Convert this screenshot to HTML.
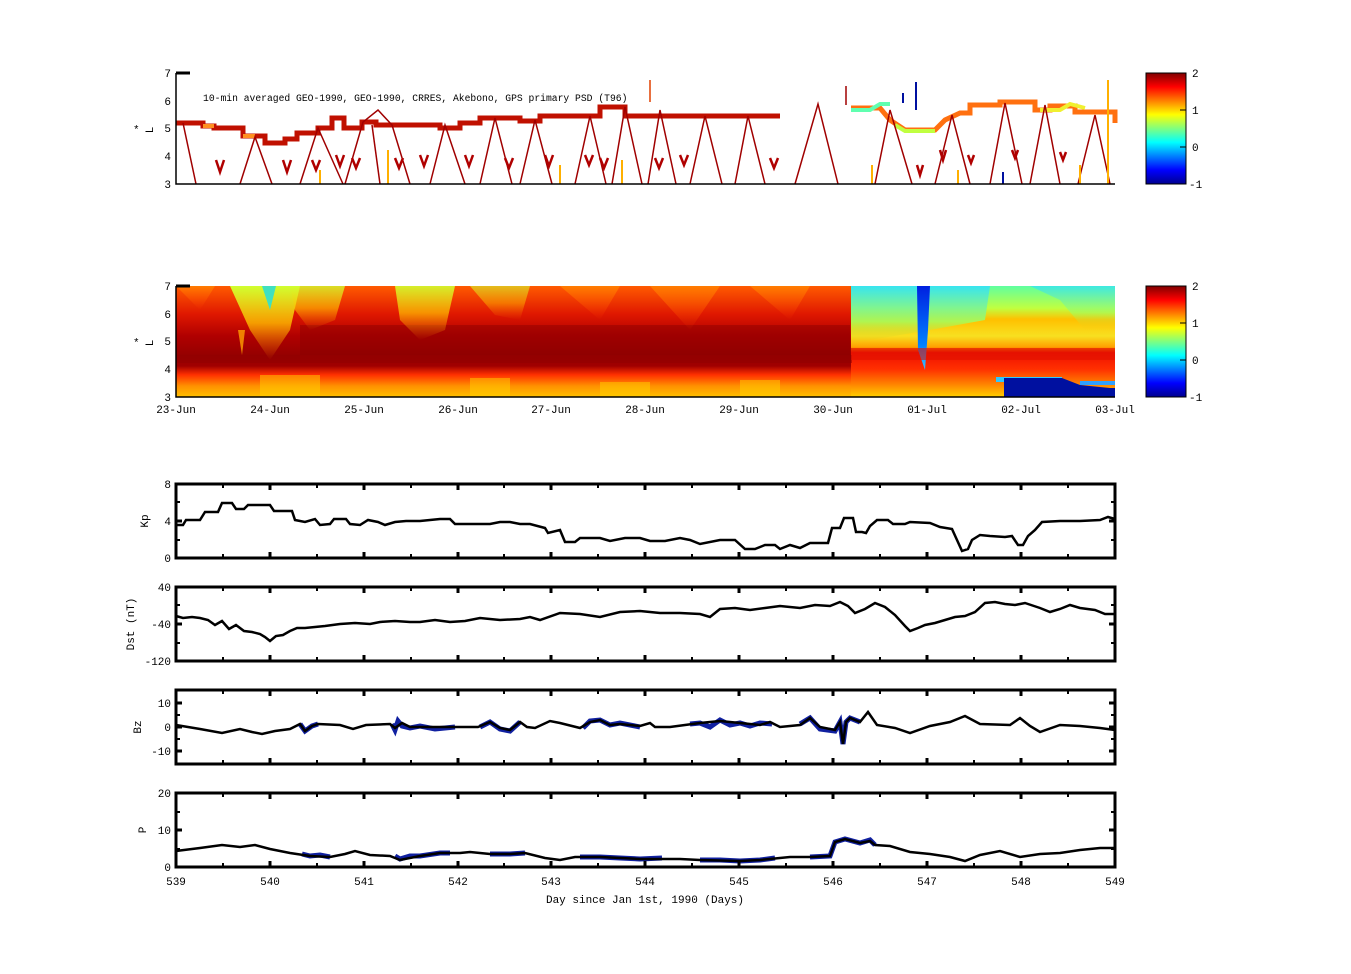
<!DOCTYPE html>
<html><head><meta charset="utf-8"><style>
html,body{margin:0;padding:0;background:#fff;}
svg{display:block;font-family:"Liberation Mono",monospace;}
</style></head><body>
<svg width="1351" height="974" viewBox="0 0 1351 974" xmlns="http://www.w3.org/2000/svg">
<defs>
<linearGradient id="jet" x1="0" y1="0" x2="0" y2="1">
<stop offset="0" stop-color="#800000"/><stop offset="0.125" stop-color="#ff0000"/><stop offset="0.375" stop-color="#ffff00"/><stop offset="0.625" stop-color="#00ffff"/><stop offset="0.875" stop-color="#0000ff"/><stop offset="1" stop-color="#00008f"/>
</linearGradient>
<linearGradient id="hmL" x1="0" y1="0" x2="0" y2="1">
<stop offset="0" stop-color="#ff5a00"/><stop offset="0.25" stop-color="#e01800"/><stop offset="0.45" stop-color="#b00000"/><stop offset="0.62" stop-color="#960000"/><stop offset="0.72" stop-color="#a00000"/><stop offset="0.8" stop-color="#ff3000"/><stop offset="0.9" stop-color="#ff9000"/><stop offset="1" stop-color="#ffc000"/>
</linearGradient>
<linearGradient id="hmR" x1="0" y1="0" x2="0" y2="1">
<stop offset="0" stop-color="#60ffa0"/><stop offset="0.2" stop-color="#c0ff40"/><stop offset="0.3" stop-color="#ffc000"/><stop offset="0.45" stop-color="#f8e020"/><stop offset="0.55" stop-color="#ffa000"/><stop offset="0.6" stop-color="#f01000"/><stop offset="0.75" stop-color="#ff3000"/><stop offset="0.88" stop-color="#ff8000"/><stop offset="1" stop-color="#ffd000"/>
</linearGradient>
<linearGradient id="ylw" x1="0" y1="0" x2="0" y2="1">
<stop offset="0" stop-color="#d0ff30" stop-opacity="1"/><stop offset="0.5" stop-color="#ffc000" stop-opacity="0.8"/><stop offset="1" stop-color="#ff8000" stop-opacity="0"/>
</linearGradient>
<linearGradient id="org" x1="0" y1="0" x2="0" y2="1">
<stop offset="0" stop-color="#ff8000" stop-opacity="0.9"/><stop offset="1" stop-color="#ff4000" stop-opacity="0"/>
</linearGradient>
<linearGradient id="cyn" x1="0" y1="0" x2="0" y2="1">
<stop offset="0" stop-color="#30e0ff"/><stop offset="0.6" stop-color="#a0ff60"/><stop offset="1" stop-color="#ffc000" stop-opacity="0"/>
</linearGradient>
<linearGradient id="bspike" x1="0" y1="0" x2="0" y2="1">
<stop offset="0" stop-color="#0020e0"/><stop offset="0.7" stop-color="#0080ff"/><stop offset="1" stop-color="#40c0ff"/>
</linearGradient>
</defs>

<!-- Panel 1 -->
<g>
<path d="M176 123 H203 V126 H214 V128 H243 V136 H265 V143 H285 V139 H297 V133 H318 V128 H332 V118 H344 V128 H362 V122 H376 V125 H440 V128 H460 V123 H480 V118 H520 V121 H540 V116 H600 V107 H625 V116 H780" fill="none" stroke="#c01000" stroke-width="5"/>
<path d="M203 126 H214 M243 136 H255" stroke="#ff9020" stroke-width="4"/>
<path d="M851 108 H880 L890 120 L905 130 H935 L945 120 L960 113 H970 V105 H1000 V102 H1035 V110 H1050 V106 H1075 V112 H1115 V123" fill="none" stroke="#ff7010" stroke-width="5"/>
<path d="M851 110 H870 L880 104 H890" fill="none" stroke="#60ffb0" stroke-width="4"/>
<path d="M895 125 L905 131 H935" fill="none" stroke="#c0ff40" stroke-width="4"/>
<path d="M1040 110 H1060 L1070 104 L1085 108" fill="none" stroke="#f0f030" stroke-width="4"/>
<g fill="none" stroke="#a00000" stroke-width="1.5">
<path d="M183 123 L196 184"/><path d="M240 184 L255 137 L272 184"/><path d="M300 184 L318 128 L343 184"/>
<path d="M345 184 L363 122 L378 110 L392 125 L410 184"/><path d="M430 184 L445 125 L465 184"/>
<path d="M480 184 L495 118 L512 184"/><path d="M520 184 L535 120 L552 184"/><path d="M575 184 L590 116 L606 184"/>
<path d="M612 184 L625 107 L642 184"/><path d="M648 184 L660 110 L676 184"/><path d="M690 184 L705 116 L722 184"/>
<path d="M735 184 L748 116 L765 184"/><path d="M795 184 L818 104 L838 184"/><path d="M875 184 L890 110 L912 184"/>
<path d="M935 184 L952 115 L970 184"/><path d="M990 184 L1005 103 L1022 184"/><path d="M1030 184 L1045 105 L1060 184"/>
<path d="M1078 184 L1095 115 L1110 184"/><path d="M380 184 L372 125"/><path d="M846 86 L846 105"/>
</g>
<g fill="none" stroke="#b00000" stroke-width="2.5">
<path d="M216 160 L220 172 L224 160"/><path d="M283 160 L287 172 L291 160"/><path d="M312 160 L316 170 L320 160"/><path d="M336 155 L340 166 L344 155"/>
<path d="M352 158 L356 168 L360 158"/><path d="M395 158 L399 168 L403 158"/><path d="M420 155 L424 166 L428 155"/><path d="M465 155 L469 166 L473 155"/>
<path d="M505 158 L509 168 L513 158"/><path d="M545 155 L549 166 L553 155"/><path d="M585 155 L589 165 L593 155"/><path d="M600 158 L604 168 L608 158"/>
<path d="M655 158 L659 168 L663 158"/><path d="M680 155 L684 165 L688 155"/><path d="M770 158 L774 168 L778 158"/><path d="M917 165 L920 175 L923 165"/>
<path d="M940 150 L943 160 L946 150"/><path d="M968 155 L971 163 L974 155"/><path d="M1012 150 L1015 158 L1018 150"/><path d="M1060 152 L1063 160 L1066 152"/>
</g>
<g stroke="#ffb000" stroke-width="2"><path d="M320 184 V170 M388 184 V150 M560 184 V165 M622 184 V160 M872 184 V165 M958 184 V170 M1080 184 V165 M1108 184 V80"/></g>
<g stroke="#0010a0" stroke-width="2"><path d="M903 93 V103 M916 82 V110 M1003 172 V184"/></g>
<path d="M650 80 V102" stroke="#e04000" stroke-width="1.5"/>
<path d="M176 73 V184 H1115" fill="none" stroke="#000" stroke-width="1.5"/>
<path d="M176 73 H190" stroke="#000" stroke-width="3"/>
<text x="203" y="101" font-size="9.7">10-min averaged GEO-1990, GEO-1990, CRRES, Akebono, GPS  primary PSD (T96)</text>
<g font-size="11" text-anchor="end"><text x="171" y="77">7</text><text x="171" y="105">6</text><text x="171" y="132">5</text><text x="171" y="160">4</text><text x="171" y="188">3</text></g>
<text transform="translate(153,130) rotate(-90)" font-size="11" text-anchor="middle">L</text>
<text x="133" y="133" font-size="11">*</text>
<rect x="1146" y="73" width="40" height="111" fill="url(#jet)" stroke="#000"/>
<g font-size="11"><text x="1192" y="77">2</text><text x="1192" y="114">1</text><text x="1192" y="151">0</text><text x="1189" y="188">-1</text></g>
<path d="M1180 110 h6 M1180 147 h6" stroke="#000"/>
</g>

<!-- Panel 2 -->
<g>
<rect x="176" y="286" width="676" height="111" fill="url(#hmL)"/>
<rect x="851" y="286" width="264" height="111" fill="url(#hmR)"/>
<rect x="300" y="325" width="550" height="30" fill="#8a0000" opacity="0.45"/>
<rect x="176" y="355" width="676" height="8" fill="#900000" opacity="0.5"/>
<polygon points="230,286 300,286 290,330 270,360 250,330" fill="url(#ylw)"/>
<polygon points="290,286 345,286 335,320 310,330 295,310" fill="url(#ylw)" opacity="0.8"/>
<polygon points="395,286 455,286 445,330 420,340 400,320" fill="url(#ylw)" opacity="0.9"/>
<polygon points="470,286 530,286 520,320 495,315" fill="url(#ylw)" opacity="0.6"/>
<polygon points="560,286 620,286 600,320" fill="url(#org)"/>
<polygon points="650,286 720,286 690,330" fill="url(#org)"/>
<polygon points="750,286 810,286 790,320" fill="url(#org)"/>
<polygon points="176,286 215,286 200,310" fill="url(#org)"/>
<polygon points="238,330 245,330 242,355" fill="#ffa000" opacity="0.8"/>
<polygon points="262,286 276,286 270,310" fill="#40e0c0"/>
<g fill="#ffd000" opacity="0.5"><rect x="260" y="375" width="60" height="22"/><rect x="470" y="378" width="40" height="19"/><rect x="600" y="382" width="50" height="15"/><rect x="740" y="380" width="40" height="17"/></g>
<polygon points="851,286 990,286 985,320 930,330 870,340 851,345" fill="url(#cyn)" opacity="0.85"/>
<polygon points="1030,286 1115,286 1115,330 1085,330 1060,300" fill="url(#cyn)" opacity="0.7"/>
<polygon points="917,286 930,286 928,330 925,370 918,350" fill="url(#bspike)"/>
<rect x="851" y="348" width="264" height="12" fill="#e01000" opacity="0.6"/>
<rect x="996" y="377" width="66" height="5" fill="#30c8ff"/>
<polygon points="1004,378 1062,378 1080,385 1110,388 1115,388 1115,397 1004,397" fill="#0010a0"/>
<rect x="1080" y="381" width="35" height="4" fill="#30a0ff"/>
<path d="M176 286 V397 H1115" fill="none" stroke="#000" stroke-width="1.5"/>
<path d="M176 286 H190" stroke="#000" stroke-width="3"/>
<g font-size="11" text-anchor="end"><text x="171" y="290">7</text><text x="171" y="318">6</text><text x="171" y="345">5</text><text x="171" y="373">4</text><text x="171" y="401">3</text></g>
<text transform="translate(153,343) rotate(-90)" font-size="11" text-anchor="middle">L</text>
<text x="133" y="346" font-size="11">*</text>
<g font-size="11" text-anchor="middle">
<text x="176" y="413">23-Jun</text><text x="270" y="413">24-Jun</text><text x="364" y="413">25-Jun</text><text x="458" y="413">26-Jun</text><text x="551" y="413">27-Jun</text><text x="645" y="413">28-Jun</text><text x="739" y="413">29-Jun</text><text x="833" y="413">30-Jun</text><text x="927" y="413">01-Jul</text><text x="1021" y="413">02-Jul</text><text x="1115" y="413">03-Jul</text>
</g>
<rect x="1146" y="286" width="40" height="111" fill="url(#jet)" stroke="#000"/>
<g font-size="11"><text x="1192" y="290">2</text><text x="1192" y="327">1</text><text x="1192" y="364">0</text><text x="1189" y="401">-1</text></g>
<path d="M1180 323 h6 M1180 360 h6" stroke="#000"/>
</g>

<!-- Kp -->
<polyline fill="none" stroke="#000" stroke-width="2.5" points="176,525 183,525 186,520 200,520 205,512 218,512 222,503 232,503 236,509 244,509 248,505 270,505 274,511 292,511 295,520 305,522 315,519 320,525 330,524 334,519 346,519 350,524 360,525 368,520 378,522 385,525 395,522 406,521 420,521 440,519 450,519 455,524 475,524 490,524 500,522 510,522 520,524 530,524 545,528 548,533 560,530 565,542 575,542 580,538 600,538 610,541 625,538 640,538 650,541 665,541 680,538 690,540 700,544 720,540 735,540 745,549 755,549 765,545 775,545 780,549 790,545 800,548 810,543 828,543 832,528 840,528 844,518 853,518 856,532 862,532 866,533 870,526 877,520 888,520 893,524 905,524 910,522 930,523 940,527 952,529 957,540 962,551 968,549 972,540 980,535 990,536 1005,537 1012,536 1018,545 1023,545 1028,536 1035,530 1042,522 1060,521 1080,521 1100,520 1108,517 1115,519"/>
<!-- Dst -->
<polyline fill="none" stroke="#000" stroke-width="2.5" points="176,616 183,618 192,617 200,618 208,620 215,625 222,621 229,629 236,625 244,631 252,632 260,634 265,637 270,641 276,636 283,635 290,631 297,628 305,628 315,627 325,626 340,624 355,623 370,624 380,622 395,621 410,622 420,622 435,620 450,622 465,621 480,618 500,620 520,619 530,617 540,620 560,613 580,614 600,617 620,612 640,611 660,613 680,613 700,614 710,617 720,609 735,608 750,610 765,608 780,606 800,608 815,605 830,606 840,602 848,606 855,613 865,609 875,603 885,607 895,615 905,626 910,631 918,628 925,625 935,623 945,620 955,617 965,616 975,612 985,603 995,602 1005,604 1015,605 1025,603 1040,608 1050,612 1060,609 1070,605 1080,608 1095,610 1105,614 1115,614"/>
<!-- Bz -->
<g fill="none" stroke="#1020a0" stroke-width="5">
<polyline points="300,724 305,731 312,726 318,724"/>
<polyline points="392,724 395,730 398,721 402,726 410,728 420,726 435,729 455,727"/>
<polyline points="480,727 490,722 500,729 510,731 520,722"/>
<polyline points="583,728 590,721 600,720 610,725 620,723 640,727"/>
<polyline points="690,724 700,723 710,727 720,720 730,725 740,723 750,726 760,723 772,724"/>
<polyline points="800,724 810,718 820,729 835,731 840,722 843,744 846,722 850,718 860,722"/>
</g>
<polyline fill="none" stroke="#000" stroke-width="2.5" points="176,725 200,729 222,733 240,729 252,732 262,734 275,731 290,729 300,724 305,731 312,726 318,724 340,725 353,729 366,725 390,724 395,728 402,723 410,727 420,727 450,727 478,727 490,722 500,728 510,730 520,722 527,727 535,728 550,721 560,723 580,728 590,722 600,720 610,725 620,724 640,726 650,723 655,727 670,727 700,723 720,721 740,723 760,725 770,722 780,727 800,725 810,718 820,727 835,730 840,722 843,744 846,722 850,718 860,722 868,712 877,725 895,728 910,733 930,726 950,722 965,716 980,724 1010,725 1020,718 1030,726 1040,732 1060,725 1080,726 1100,728 1115,730"/>
<!-- P -->
<g fill="none" stroke="#1020a0" stroke-width="5">
<polyline points="302,854 310,856 320,855 330,857"/>
<polyline points="395,856 400,859 410,856 420,856 440,853 450,853"/>
<polyline points="490,854 510,854 525,853"/>
<polyline points="580,857 600,857 620,858 640,859 662,858"/>
<polyline points="700,860 720,860 740,861 760,860 775,858"/>
<polyline points="810,857 830,856 835,842 845,839 860,843 870,840 875,845"/>
</g>
<polyline fill="none" stroke="#000" stroke-width="2.5" points="176,851 200,848 222,845 240,847 255,845 270,849 290,853 310,856 330,857 345,854 355,851 370,855 390,856 400,860 420,856 440,853 460,853 470,852 490,854 510,854 525,853 545,858 560,860 575,857 600,857 640,859 680,859 700,860 740,861 760,860 790,857 810,857 830,856 835,842 845,839 860,843 870,841 875,845 890,846 910,852 930,854 950,857 965,861 980,855 1000,851 1020,857 1040,854 1060,853 1080,850 1100,848 1115,848"/>

<!-- Boxes and ticks -->
<g fill="none" stroke="#000" stroke-width="3">
<rect x="176" y="484" width="939" height="74"/>
<rect x="176" y="587" width="939" height="74"/>
<rect x="176" y="690" width="939" height="74"/>
<rect x="176" y="793" width="939" height="74"/>
</g>
<g stroke="#000" stroke-width="3">
<path d="M270 484v6M364 484v6M458 484v6M551 484v6M645 484v6M739 484v6M833 484v6M927 484v6M1021 484v6 M270 558v-6M364 558v-6M458 558v-6M551 558v-6M645 558v-6M739 558v-6M833 558v-6M927 558v-6M1021 558v-6"/>
<path d="M270 587v6M364 587v6M458 587v6M551 587v6M645 587v6M739 587v6M833 587v6M927 587v6M1021 587v6 M270 661v-6M364 661v-6M458 661v-6M551 661v-6M645 661v-6M739 661v-6M833 661v-6M927 661v-6M1021 661v-6"/>
<path d="M270 690v6M364 690v6M458 690v6M551 690v6M645 690v6M739 690v6M833 690v6M927 690v6M1021 690v6 M270 764v-6M364 764v-6M458 764v-6M551 764v-6M645 764v-6M739 764v-6M833 764v-6M927 764v-6M1021 764v-6"/>
<path d="M270 793v6M364 793v6M458 793v6M551 793v6M645 793v6M739 793v6M833 793v6M927 793v6M1021 793v6 M270 867v-6M364 867v-6M458 867v-6M551 867v-6M645 867v-6M739 867v-6M833 867v-6M927 867v-6M1021 867v-6"/>
<path d="M176 521h6M1115 521h-6M176 624h6M1115 624h-6M176 727h6M1115 727h-6M176 703h6M1115 703h-6M176 751h6M1115 751h-6M176 830h6M1115 830h-6"/>
</g>
<g stroke="#000" stroke-width="2">
<path d="M223 484v4M317 484v4M411 484v4M504 484v4M598 484v4M692 484v4M786 484v4M880 484v4M974 484v4M1068 484v4 M223 558v-4M317 558v-4M411 558v-4M504 558v-4M598 558v-4M692 558v-4M786 558v-4M880 558v-4M974 558v-4M1068 558v-4"/>
<path d="M223 587v4M317 587v4M411 587v4M504 587v4M598 587v4M692 587v4M786 587v4M880 587v4M974 587v4M1068 587v4 M223 661v-4M317 661v-4M411 661v-4M504 661v-4M598 661v-4M692 661v-4M786 661v-4M880 661v-4M974 661v-4M1068 661v-4"/>
<path d="M223 690v4M317 690v4M411 690v4M504 690v4M598 690v4M692 690v4M786 690v4M880 690v4M974 690v4M1068 690v4 M223 764v-4M317 764v-4M411 764v-4M504 764v-4M598 764v-4M692 764v-4M786 764v-4M880 764v-4M974 764v-4M1068 764v-4"/>
<path d="M223 793v4M317 793v4M411 793v4M504 793v4M598 793v4M692 793v4M786 793v4M880 793v4M974 793v4M1068 793v4 M223 867v-4M317 867v-4M411 867v-4M504 867v-4M598 867v-4M692 867v-4M786 867v-4M880 867v-4M974 867v-4M1068 867v-4"/>
<path d="M176 502h4M1115 502h-4M176 540h4M1115 540h-4M176 605h4M1115 605h-4M176 643h4M1115 643h-4M176 715h4M1115 715h-4M176 739h4M1115 739h-4M176 812h4M1115 812h-4M176 849h4M1115 849h-4"/>
</g>
<g font-size="11" text-anchor="end">
<text x="171" y="488">8</text><text x="171" y="525">4</text><text x="171" y="562">0</text>
<text x="171" y="591">40</text><text x="171" y="628">-40</text><text x="171" y="665">-120</text>
<text x="171" y="707">10</text><text x="171" y="731">0</text><text x="171" y="755">-10</text>
<text x="171" y="797">20</text><text x="171" y="834">10</text><text x="171" y="871">0</text>
</g>
<g font-size="11" text-anchor="middle">
<text transform="translate(148,521) rotate(-90)">Kp</text>
<text transform="translate(134,624) rotate(-90)">Dst (nT)</text>
<text transform="translate(141,727) rotate(-90)">Bz</text>
<text transform="translate(146,830) rotate(-90)">P</text>
<text x="176" y="885">539</text><text x="270" y="885">540</text><text x="364" y="885">541</text><text x="458" y="885">542</text><text x="551" y="885">543</text><text x="645" y="885">544</text><text x="739" y="885">545</text><text x="833" y="885">546</text><text x="927" y="885">547</text><text x="1021" y="885">548</text><text x="1115" y="885">549</text>
<text x="645" y="903">Day since Jan 1st, 1990 (Days)</text>
</g>
</svg>
</body></html>
